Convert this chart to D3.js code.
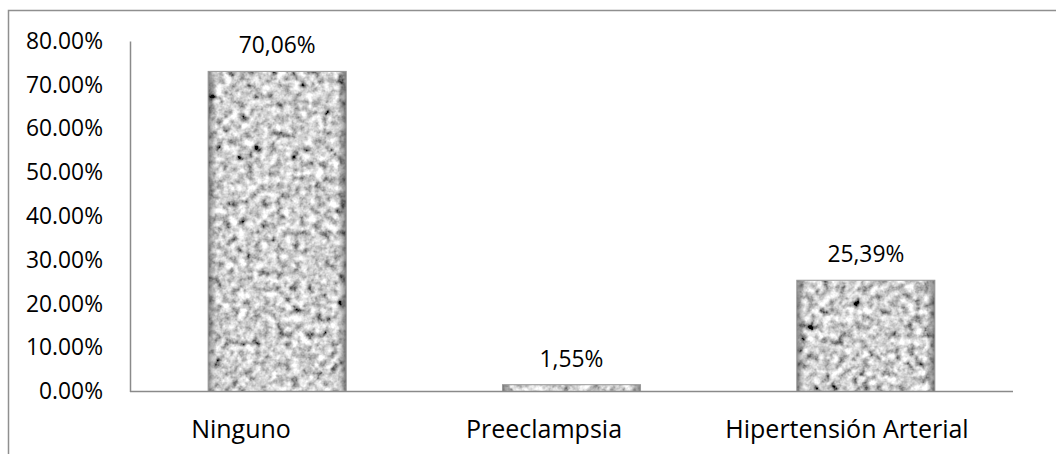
<!DOCTYPE html>
<html>
<head>
<meta charset="utf-8">
<script src="https://cdn.jsdelivr.net/npm/d3@7"></script>
<style>
  body { margin: 0; background: #fff; }
  text { font-family: 'Open Sans', sans-serif; fill: #000; }
</style>
</head>
<body>
<div id="main"></div>
<script>
// chart data
const categories = ['Ninguno', 'Preeclampsia', 'Hipertensión Arterial'];
const values = [0.7306, 0.0155, 0.2539]; // bar heights
const valueLabels = ['70,06%', '1,55%', '25,39%']; // labels as printed on the chart
const tickValues = [0, 0.1, 0.2, 0.3, 0.4, 0.5, 0.6, 0.7, 0.8];

function main() {
  const width = 1056;
  const height = 454;
  const left = 130;
  const right = 1013;
  const top = 41;
  const bottom = 391.5;

  const svg = d3.select('#main')
    .append('svg')
    .attr('width', width)
    .attr('height', height);

  // granite texture for the bars
  const defs = svg.append('defs');
  const filter = defs.append('filter')
    .attr('id', 'granite')
    .attr('x', 0).attr('y', 0).attr('width', 1).attr('height', 1);
  filter.append('feTurbulence')
    .attr('type', 'fractalNoise')
    .attr('baseFrequency', 0.13)
    .attr('numOctaves', 3)
    .attr('seed', 7)
    .attr('result', 'noise');
  filter.append('feColorMatrix')
    .attr('in', 'noise')
    .attr('type', 'matrix')
    .attr('values', '0.33 0.33 0.33 0 0  0.33 0.33 0.33 0 0  0.33 0.33 0.33 0 0  0 0 0 0 1')
    .attr('result', 'gray');
  const ct = filter.append('feComponentTransfer').attr('in', 'gray').attr('result', 'contrast');
  ['feFuncR', 'feFuncG', 'feFuncB'].forEach(f => {
    ct.append(f).attr('type', 'linear').attr('slope', 2.9).attr('intercept', -0.82);
  });
  filter.append('feGaussianBlur')
    .attr('in', 'contrast')
    .attr('stdDeviation', 0.5)
    .attr('result', 'soft');
  filter.append('feComposite')
    .attr('in', 'soft')
    .attr('in2', 'SourceGraphic')
    .attr('operator', 'in');

  // darker edges to mimic the bevel
  const gx = defs.append('linearGradient').attr('id', 'edgeX');
  [[0, 0.5], [0.06, 0], [0.94, 0], [1, 0.55]].forEach(([o, a]) => {
    gx.append('stop').attr('offset', o).attr('stop-color', '#222').attr('stop-opacity', a);
  });

  // outer frame of the chart area
  svg.append('path')
    .attr('d', `M8.5,${height} V10.5 H${width}`)
    .attr('fill', 'none')
    .attr('stroke', '#8f8f8f')
    .attr('stroke-width', 1.5);

  const x = d3.scaleBand()
    .domain(categories)
    .range([left, right])
    .paddingInner(0.531)
    .paddingOuter(0.2655);

  // category labels sit on a slightly wider spacing than the bars
  const xLabel = d3.scalePoint()
    .domain(categories)
    .range([241, 847]);

  const y = d3.scaleLinear()
    .domain([0, 0.8])
    .range([bottom, top]);

  // y axis
  const yAxis = d3.axisLeft(y)
    .tickValues(tickValues)
    .tickFormat(d3.format('.2%'))
    .tickSize(0)
    .tickPadding(27);

  const yg = svg.append('g')
    .attr('transform', `translate(${left}, 0)`)
    .call(yAxis);
  yg.select('.domain').attr('stroke', '#8a8a8a').attr('stroke-width', 1.5);
  yg.selectAll('text')
    .style('font-size', '22.8px')
    .attr('fill', '#000');

  // bars
  const data = categories.map((c, i) => ({ c, v: values[i], label: valueLabels[i] }));

  svg.selectAll('rect.bar')
    .data(data)
    .enter()
    .append('rect')
    .classed('bar', true)
    .attr('x', d => x(d.c))
    .attr('y', d => y(d.v))
    .attr('width', x.bandwidth())
    .attr('height', d => y(0) - y(d.v))
    .attr('fill', '#fff')
    .attr('filter', 'url(#granite)');

  svg.selectAll('rect.edge')
    .data(data)
    .enter()
    .append('rect')
    .classed('edge', true)
    .attr('x', d => x(d.c))
    .attr('y', d => y(d.v))
    .attr('width', x.bandwidth())
    .attr('height', d => y(0) - y(d.v))
    .attr('fill', 'url(#edgeX)')
    .attr('stroke', '#999')
    .attr('stroke-width', 1);

  // baseline
  svg.append('line')
    .attr('x1', left)
    .attr('x2', right)
    .attr('y1', y(0))
    .attr('y2', y(0))
    .attr('stroke', '#8a8a8a')
    .attr('stroke-width', 1.5);

  // value labels
  svg.selectAll('text.value')
    .data(data)
    .enter()
    .append('text')
    .classed('value', true)
    .attr('x', d => x(d.c) + x.bandwidth() / 2)
    .attr('y', d => y(d.v) - 18)
    .style('font-size', '22.8px')
    .style('text-anchor', 'middle')
    .text(d => d.label);

  // category labels
  svg.selectAll('text.cat')
    .data(categories)
    .enter()
    .append('text')
    .classed('cat', true)
    .attr('x', d => xLabel(d))
    .attr('y', 438)
    .style('font-size', '25px')
    .style('text-anchor', 'middle')
    .text(d => d);
}

document.addEventListener('DOMContentLoaded', main);
</script>
</body>
</html>
